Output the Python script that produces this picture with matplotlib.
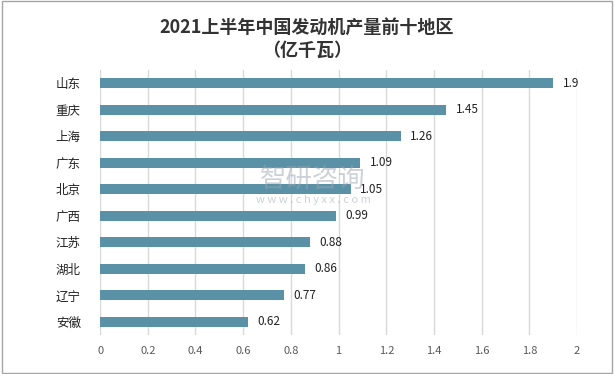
import matplotlib.pyplot as plt
from matplotlib.patches import Rectangle

plt.rcParams['font.family'] = ['Noto Sans CJK SC', 'DejaVu Sans']

# data
regions = ['山东', '重庆', '上海', '广东', '北京', '广西', '江苏', '湖北', '辽宁', '安徽']
values = [1.9, 1.45, 1.26, 1.09, 1.05, 0.99, 0.88, 0.86, 0.77, 0.62]
xticks = [0, 0.2, 0.4, 0.6, 0.8, 1, 1.2, 1.4, 1.6, 1.8, 2]
xtick_labels = ['0', '0.2', '0.4', '0.6', '0.8', '1', '1.2', '1.4', '1.6', '1.8', '2']
title = '2021上半年中国发动机产量前十地区\n（亿千瓦）'

fig = plt.figure(figsize=(6.14, 3.74), dpi=100)
ax = fig.add_axes([0.163, 0.104, 0.777, 0.709])

ypos = list(range(len(regions)))
ax.barh(ypos, values, height=0.38, color='#5B91A6', zorder=3)
for y, v in zip(ypos, values):
    ax.text(v + 0.04, y, f'{v:g}', va='center', ha='left', fontsize=8.5, color='#222222', zorder=4)

ax.set_ylim(len(regions) - 0.5, -0.5)
ax.set_xlim(0, 2)
ax.set_yticks(ypos)
ax.set_yticklabels(regions, fontsize=9, color='#222222')
ax.set_xticks(xticks)
ax.set_xticklabels(xtick_labels, fontsize=8, color='#595959')
ax.tick_params(axis='both', length=0, pad=8)
ax.tick_params(axis='y', pad=14)
ax.grid(axis='x', color='#D9D9D9', linewidth=1, zorder=0)
for s in ax.spines.values():
    s.set_visible(False)

fig.text(0.5, 0.897, title, ha='center', va='center', fontsize=13, fontweight='bold',
         color='#333333', linespacing=1.3)

# watermark
fig.text(0.51, 0.52, '智研咨询', ha='center', va='center', fontsize=19, color='#9AA5B0', alpha=0.5, zorder=10)
fig.text(0.51, 0.465, 'w w w . c h y x x . c o m', ha='center', va='center', fontsize=8, color='#9AA5B0', alpha=0.5, zorder=10)

fig.patches.append(Rectangle((0.003, 0.004), 0.994, 0.992, transform=fig.transFigure,
                             fill=False, edgecolor='#A6A6A6', linewidth=1))

fig.savefig('out.png', dpi=100)
